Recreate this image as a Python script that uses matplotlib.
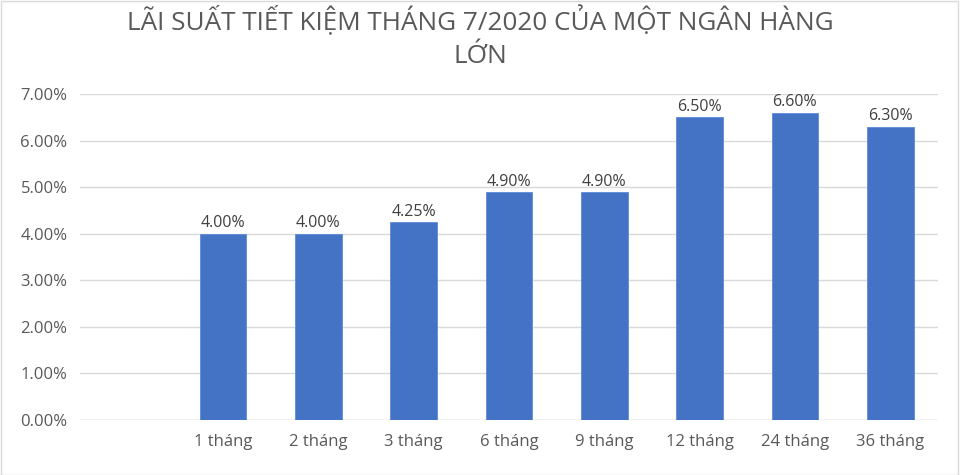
import matplotlib
matplotlib.use("Agg")
import matplotlib.pyplot as plt
import numpy as np
from matplotlib.ticker import FuncFormatter, MultipleLocator

categories = ["", "1 tháng", "2 tháng", "3 tháng", "6 tháng", "9 tháng", "12 tháng", "24 tháng", "36 tháng"]
rates = [np.nan, 0.0400, 0.0400, 0.0425, 0.0490, 0.0490, 0.0650, 0.0660, 0.0630]
title_lines = ["LÃI SUẤT TIẾT KIỆM THÁNG 7/2020 CỦA MỘT NGÂN HÀNG", "LỚN"]

plt.rcParams['font.family'] = ['Open Sans', 'DejaVu Sans']
text_color = "#595959"

fig = plt.figure(figsize=(9.6, 4.75), dpi=100)
fig.patch.set_facecolor("white")
ax = fig.add_axes([0.0833, 0.1158, 0.8937, 0.6862])

x = np.arange(len(categories))
ax.bar(x, rates, width=0.49, color="#4472C4", edgecolor="#5B8BD8", linewidth=0.6, zorder=3)
for xi, v in zip(x, rates):
    if not np.isnan(v):
        ax.text(xi, v + 0.0005, f"{v*100:.2f}%", ha="center", va="bottom", fontsize=11.5, color="#404040")

ax.set_xlim(-0.5, len(categories) - 0.5)
ax.set_ylim(0, 0.07)
ax.yaxis.set_major_locator(MultipleLocator(0.01))
ax.yaxis.set_major_formatter(FuncFormatter(lambda v, p: f"{v*100:.2f}%"))
ax.set_xticks(x)
ax.set_xticklabels(categories)
ax.tick_params(axis="both", length=0, labelsize=12, colors=text_color)
ax.tick_params(axis="x", pad=10)
ax.tick_params(axis="y", pad=9)
ax.grid(axis="y", color="#D9D9D9", linewidth=1, zorder=0)
for s in ax.spines.values():
    s.set_visible(False)
ax.axhline(0, color="#D9D9D9", linewidth=1, zorder=1)

fig.text(0.5, 1 - 30 / 475, title_lines[0], ha="center", va="baseline", fontsize=18.8, color=text_color)
fig.text(0.5, 1 - 63 / 475, title_lines[1], ha="center", va="baseline", fontsize=18.8, color=text_color)

border = plt.Rectangle((0.001, 0.001), 0.997, 0.997, transform=fig.transFigure, fill=False, edgecolor="#D9D9D9", linewidth=1)
fig.patches.append(border)

fig.savefig("out.png", dpi=100)
